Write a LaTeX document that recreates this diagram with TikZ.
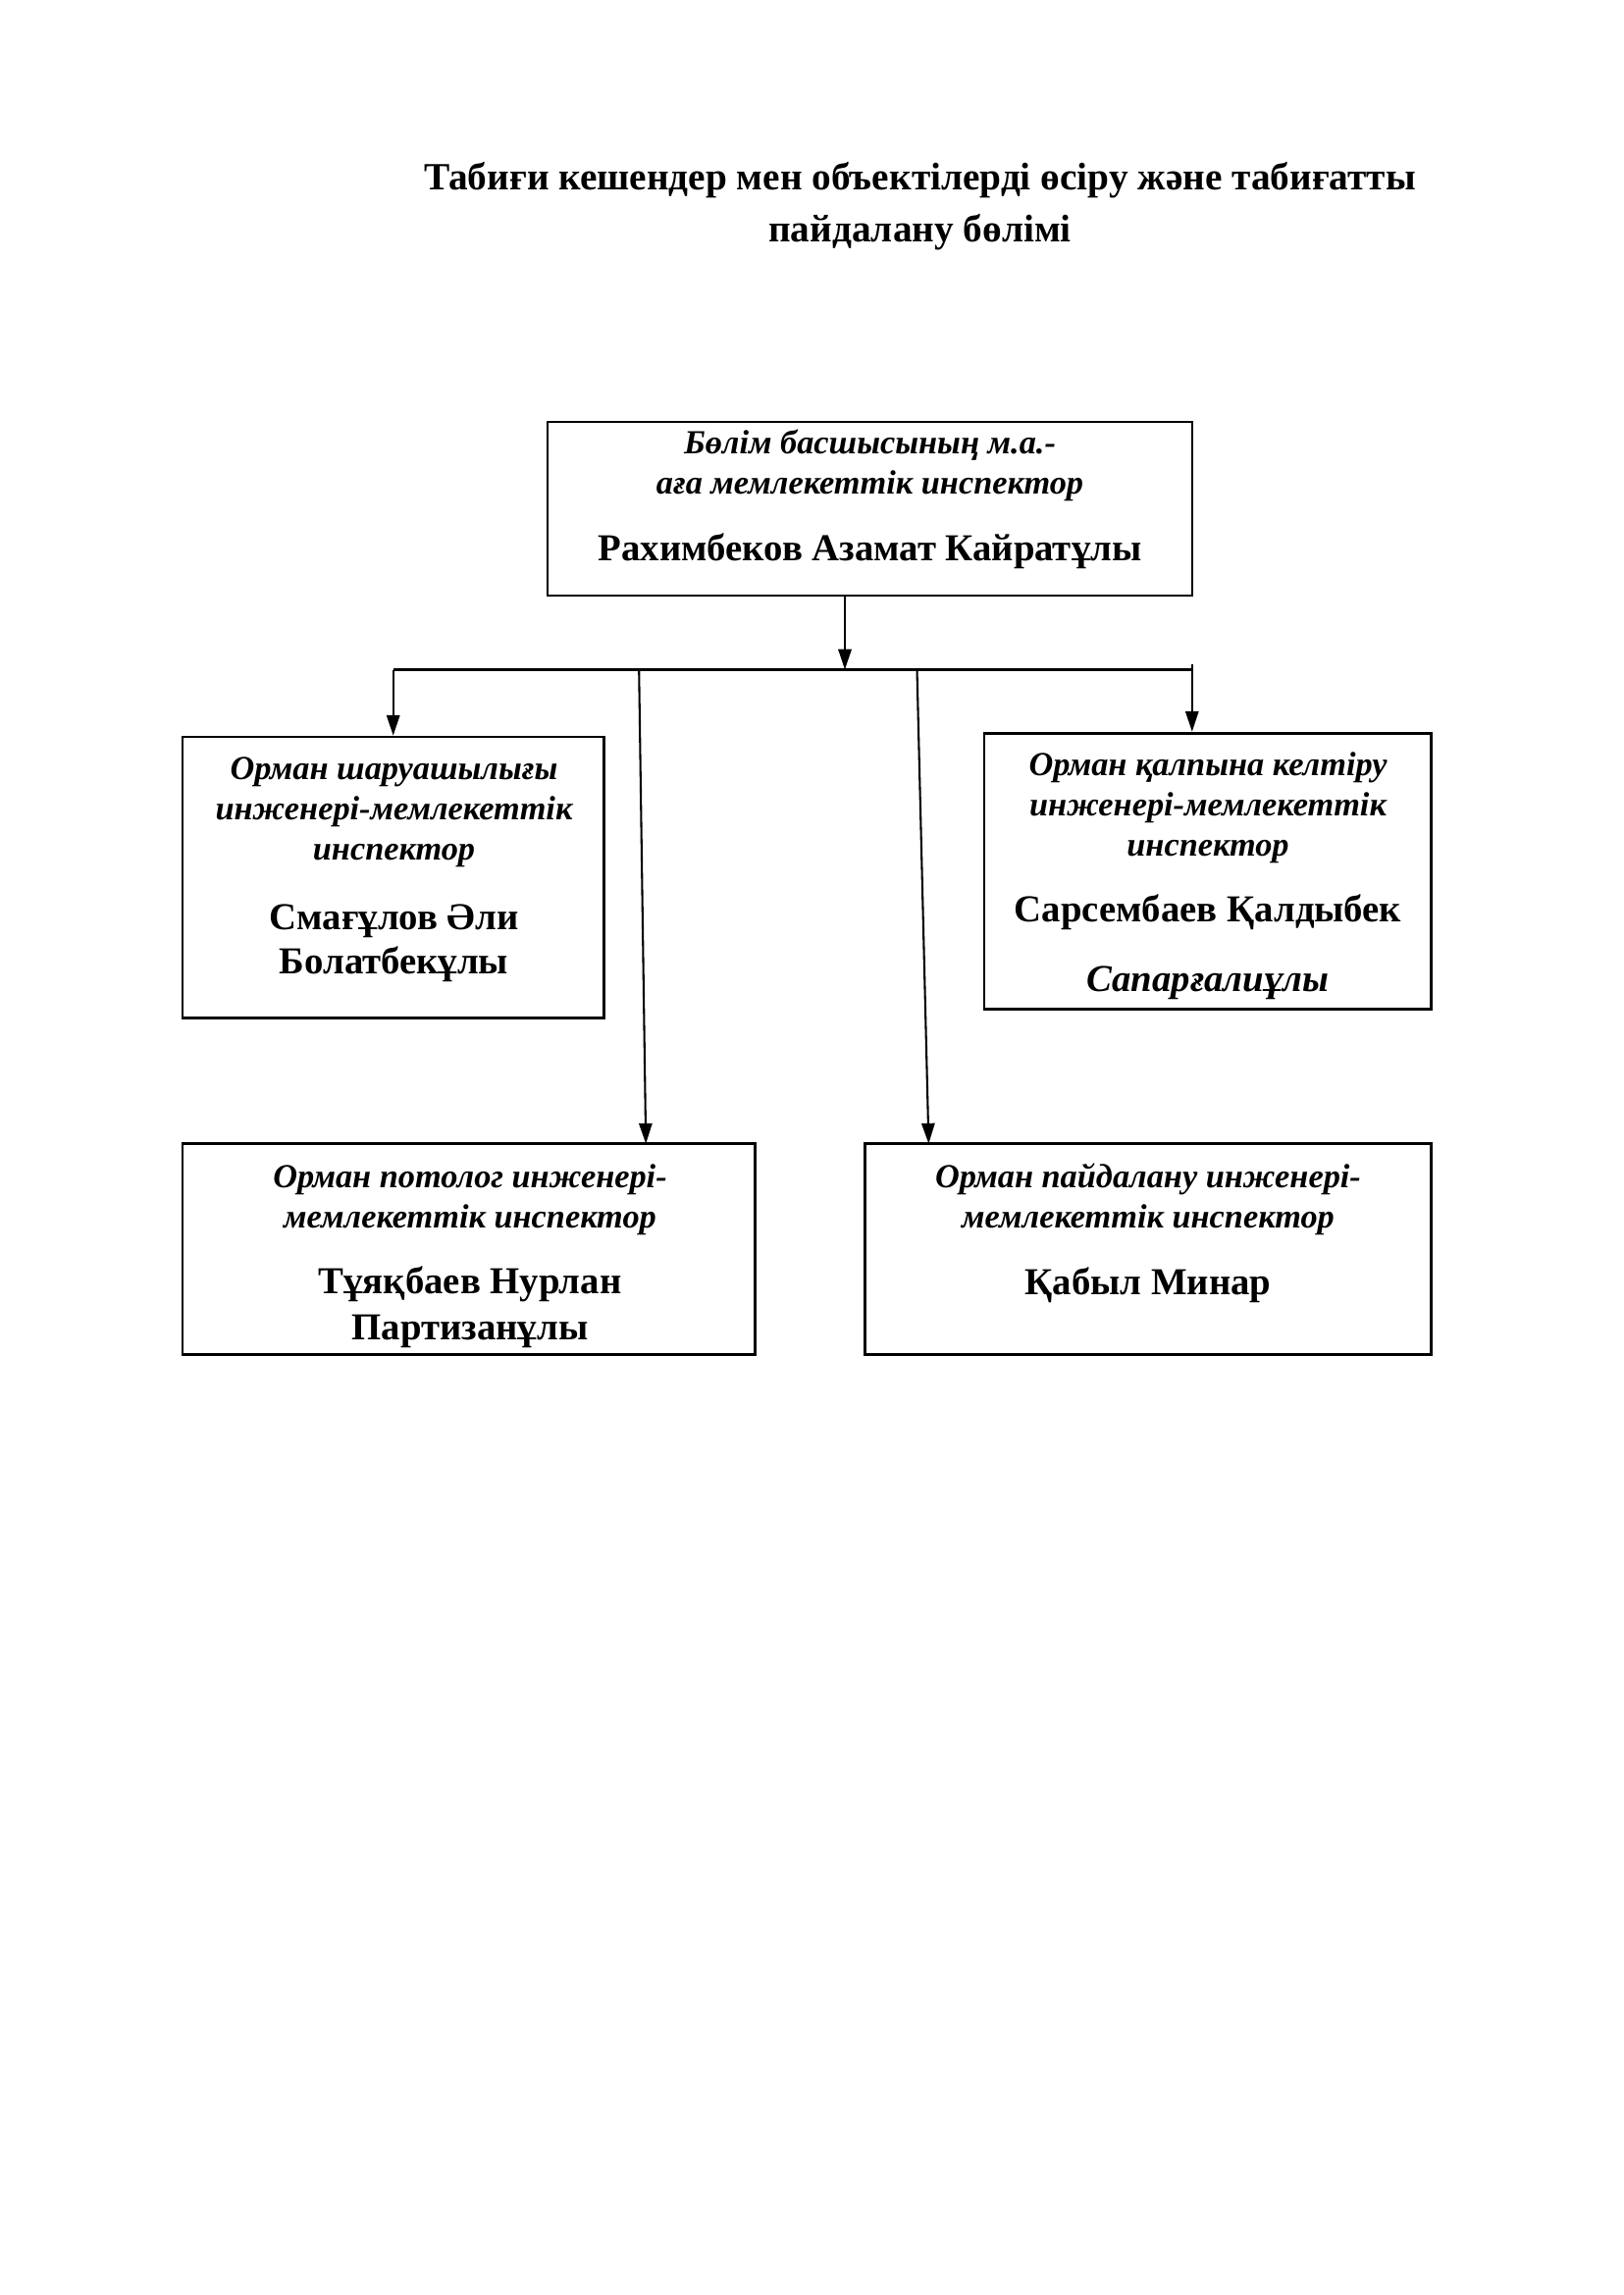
\documentclass[tikz,border=0pt]{standalone}
\usepackage{fontspec}
\setmainfont{Liberation Serif}
\usetikzlibrary{arrows.meta}
\newcommand{\rolef}{\fontsize{12.4}{14.8}\selectfont\bfseries\itshape}
\newcommand{\namef}{\fontsize{14}{14.8}\selectfont\bfseries}
\newcommand{\nameif}{\fontsize{14}{14.8}\selectfont\bfseries\itshape}
\begin{document}
\begin{tikzpicture}[x=0.12697mm,y=-0.12697mm,
  box/.style={draw,line width=1pt,inner sep=0pt},
  txt/.style={anchor=north,inner sep=0pt,align=center,font=\fontsize{12.4}{14.8}\selectfont},
  conn/.style={line width=0.75pt},
  arr/.style={conn,-{Triangle[length=7.5pt,width=4.8pt]}},
  titlest/.style={align=center,font=\fontsize{14.2}{19.1}\selectfont\bfseries}
]
\useasboundingbox (0,0) rectangle (1654,2339);
\fill[white] (0,0) rectangle (1654,2339);

\node[titlest] (title) at (937.5,209.8) {Табиғи кешендер мен объектілерді өсіру және табиғатты\\пайдалану бөлімі};

% boxes
\node[box,minimum width=83.42mm,minimum height=22.47mm] (top) at (886.5,518.5) {};
\node[box,minimum width=54.52mm,minimum height=36.35mm] (left) at (400.7,894.2) {};
\node[box,minimum width=57.80mm,minimum height=35.70mm] (right) at (1230.7,887.7) {};
\node[box,minimum width=74.08mm,minimum height=27.26mm] (bl) at (477.8,1273) {};
\node[box,minimum width=73.20mm,minimum height=27.26mm] (br) at (1170,1273) {};

% texts
\node[txt] (toptext) at (886.5,437)
  {\rolef Бөлім басшысының м.а.-\\ \rolef аға мемлекеттік инспектор\\[9.8pt] \namef Рахимбеков Азамат Кайратұлы};
\node[txt] (lefttext) at (401.5,771.5)
  {\rolef Орман шаруашылығы\\ \rolef инженері-мемлекеттік\\ \rolef инспектор\\[10.8pt] \namef Смағұлов Әли\\[1.5pt] \namef Болатбекұлы};
\node[txt] (righttext) at (1231,766)
  {\rolef Орман қалпына келтіру\\ \rolef инженері-мемлекеттік\\ \rolef инспектор\\[9.6pt] \namef Сарсембаев Қалдыбек\\[10.7pt] \nameif Сапарғалиұлы};
\node[txt] (bltext) at (479,1186)
  {\rolef Орман потолог инженері-\\ \rolef мемлекеттік инспектор\\[9.3pt] \namef Тұяқбаев Нурлан\\[2.5pt] \namef Партизанұлы};
\node[txt] (brtext) at (1170,1184.8)
  {\rolef Орман пайдалану инженері-\\ \rolef мемлекеттік инспектор\\[9.8pt] \namef Қабыл Минар};

% connectors
\coordinate (hub) at (861,682.5);
\coordinate (hl) at (400.7,682.5);
\coordinate (hr) at (1214.8,682.5);
\coordinate (hrtop) at (1214.8,676.5);
\coordinate (s1) at (651.2,682.5);
\coordinate (t1) at (658.2,1165.6);
\coordinate (s2) at (934.5,682.5);
\coordinate (t2) at (946.4,1165.6);

\draw[arr] (top.south -| hub) -- (hub);
\draw[conn] (hl) -- (hr);
\draw[arr] (hl) -- (left.north -| hl);
\draw[arr] (hrtop) -- (right.north -| hr);
\draw[arr] (s1) -- (t1);
\draw[arr] (s2) -- (t2);
\end{tikzpicture}
\end{document}
